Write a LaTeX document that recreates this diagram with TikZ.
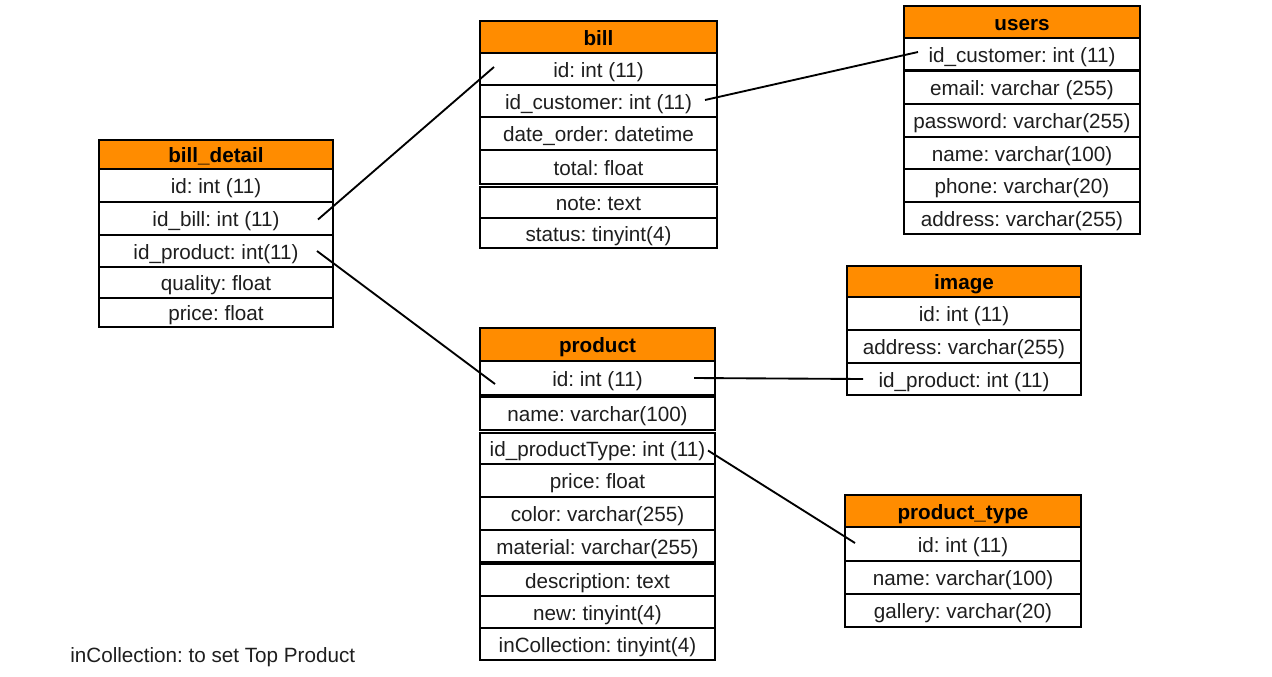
\documentclass[tikz,border=0pt]{standalone}
\usepackage{fontspec}
\setmainfont{Liberation Sans}
\usetikzlibrary{calc}
\definecolor{hdr}{RGB}{255,140,0}
\definecolor{txt}{RGB}{30,30,30}
\tikzset{
  cell/.style={draw=black, line width=1.4pt, fill=white, inner sep=0pt, outer sep=0pt,
    text=txt, text height=12.5pt, text depth=0pt, font=\fontsize{15.5}{18}\selectfont},
  headcell/.style={cell, fill=hdr, font=\fontsize{15.5}{18}\selectfont\bfseries, text=black},
  link/.style={draw=black, line width=1.4pt}
}
\newcommand\dbcell[7]{\node[#1, minimum width={(#5-#3)*0.75pt}, minimum height={(#6-#4)*0.75pt}] (#2) at ({(#3+#5)/2},{(#4+#6)/2}) {#7};}
\begin{document}
\frenchspacing
\begin{tikzpicture}[x=0.75pt,y=-0.75pt]
\useasboundingbox (0,0) rectangle (1272,676);
\fill[white] (0,0) rectangle (1272,676);
% bill_detail
\dbcell{headcell}{bd-h}{99}{140}{333}{169}{bill\_detail}
\dbcell{cell}{bd-id}{99}{169}{333}{202}{id: int (11)}
\dbcell{cell}{bd-idbill}{99}{202}{333}{235}{id\_bill: int (11)}
\dbcell{cell}{bd-idproduct}{99}{235}{333}{267}{id\_product: int(11)}
\dbcell{cell}{bd-quality}{99}{267}{333}{298}{quality: float}
\dbcell{cell}{bd-price}{99}{298}{333}{327}{price: float}
% bill
\dbcell{headcell}{b-h}{480}{21}{717}{53}{bill}
\dbcell{cell}{b-id}{480}{53}{717}{85}{id: int (11)}
\dbcell{cell}{b-idcustomer}{480}{85}{717}{117}{id\_customer: int (11)}
\dbcell{cell}{b-date}{480}{117}{717}{150}{date\_order: datetime}
\dbcell{cell}{b-total}{480}{150}{717}{184}{total: float}
\dbcell{cell}{b-note}{480}{187}{717}{218}{note: text}
\dbcell{cell}{b-status}{480}{218}{717}{248}{status: tinyint(4)}
% users
\dbcell{headcell}{u-h}{904}{6}{1140}{38}{users}
\dbcell{cell}{u-idcustomer}{904}{38}{1140}{70}{id\_customer: int (11)}
\dbcell{cell}{u-email}{904}{71}{1140}{104}{email: varchar (255)}
\dbcell{cell}{u-password}{904}{104}{1140}{137}{password: varchar(255)}
\dbcell{cell}{u-name}{904}{137}{1140}{169}{name: varchar(100)}
\dbcell{cell}{u-phone}{904}{169}{1140}{202}{phone: varchar(20)}
\dbcell{cell}{u-address}{904}{202}{1140}{234}{address: varchar(255)}
% image
\dbcell{headcell}{i-h}{847}{266}{1081}{297}{image}
\dbcell{cell}{i-id}{847}{297}{1081}{330}{id: int (11)}
\dbcell{cell}{i-address}{847}{330}{1081}{363}{address: varchar(255)}
\dbcell{cell}{i-idproduct}{847}{363}{1081}{395}{id\_product: int (11)}
% product
\dbcell{headcell}{p-h}{480}{328}{715}{361}{product}
\dbcell{cell}{p-id}{480}{361}{715}{395}{id: int (11)}
\dbcell{cell}{p-name}{480}{397}{715}{430}{name: varchar(100)}
\dbcell{cell}{p-idpt}{480}{433}{715}{464}{id\_productType: int (11)}
\dbcell{cell}{p-price}{480}{464}{715}{497}{price: float}
\dbcell{cell}{p-color}{480}{497}{715}{530}{color: varchar(255)}
\dbcell{cell}{p-material}{480}{530}{715}{562}{material: varchar(255)}
\dbcell{cell}{p-desc}{480}{564}{715}{596}{description: text}
\dbcell{cell}{p-new}{480}{596}{715}{628}{new: tinyint(4)}
\dbcell{cell}{p-incoll}{480}{628}{715}{660}{inCollection: tinyint(4)}
% product_type
\dbcell{headcell}{pt-h}{845}{495}{1081}{527}{product\_type}
\dbcell{cell}{pt-id}{845}{527}{1081}{561}{id: int (11)}
\dbcell{cell}{pt-name}{845}{561}{1081}{594}{name: varchar(100)}
\dbcell{cell}{pt-gallery}{845}{594}{1081}{627}{gallery: varchar(20)}
% note
\node[anchor=west, inner sep=0pt, text=txt, font=\fontsize{15.5}{18}\selectfont] (note) at (70,657) {inCollection: to set Top Product};
% connectors
\draw[link] ($(bd-idbill.east)+(-15,1)$) -- ($(b-id.west)+(14,-2)$);
\draw[link] ($(bd-idproduct.east)+(-16,0)$) -- ($(p-id.west)+(15,6)$);
\draw[link] ($(b-idcustomer.east)+(-12,-1)$) -- ($(u-idcustomer.west)+(14,-2)$);
\draw[link] ($(p-id.east)+(-21,0)$) -- ($(i-idproduct.west)+(16,0)$);
\draw[link] ($(p-idpt.east)+(-7,2)$) -- ($(pt-id.west)+(10,-1)$);
\end{tikzpicture}
\end{document}
